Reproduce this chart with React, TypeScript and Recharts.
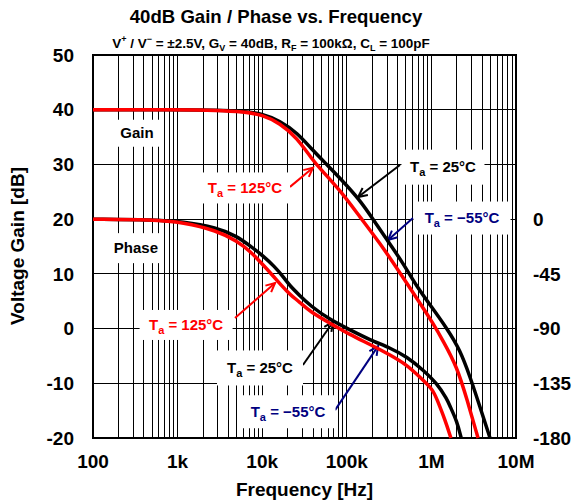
import React from 'react';
import {
  LineChart, Line, XAxis, YAxis, CartesianGrid, ReferenceArea, ReferenceDot, ReferenceLine,
} from 'recharts';

const FONT = '"Liberation Sans", Arial, Helvetica, sans-serif';

// frequency axis
const decades = [100, 1000, 10000, 100000, 1000000, 10000000];
const decadeLabels = ['100', '1k', '10k', '100k', '1M', '10M'];
const gainTicks = [-20, -10, 0, 10, 20, 30, 40, 50];
const phaseTicks = [-180, -135, -90, -45, 0];

// gain curves [dB]
const gain25F = [100, 1000, 3000, 6000, 10000, 16000, 26000, 40000, 58000, 83000, 143000, 204000, 299000, 461000, 676000, 1000000, 1530000, 2180000, 2860000, 3750000, 4930000];
const gain25 = [40, 40, 39.9, 39.7, 39.3, 38, 35.8, 32.5, 30, 27.5, 23.5, 20, 16.2, 12, 7.6, 4, 0, -3.9, -8.8, -14.3, -20];
const gain125F = [100, 1000, 3000, 6000, 10000, 16200, 25800, 39800, 48000, 83000, 143000, 247000, 425000, 796000, 1040000, 1370000, 2010000, 2640000, 3560000];
const gain125 = [40, 40, 39.9, 39.6, 39.1, 37.5, 34.9, 30.7, 29.3, 25.3, 20.4, 15.6, 10.2, 3.8, 1, -2.2, -7, -13, -20];

// phase curves [deg]
const phase25F = [100, 500, 1160, 2900, 5000, 7200, 10200, 14000, 17600, 21300, 28000, 36700, 63300, 109000, 188000, 324000, 515000, 796000, 1160000, 1530000, 1660000, 2000000, 2250000];
const phase25 = [0, -0.5, -2, -7, -14, -22, -30, -39, -47, -55, -63, -71, -82.8, -91, -99.4, -105.8, -113.3, -124, -135, -148, -154, -166, -180];
const phase125F = [100, 500, 1160, 2920, 5040, 7170, 11400, 17600, 21300, 28000, 36700, 63300, 109000, 188000, 324000, 515000, 733000, 1040000, 1160000, 1450000, 1700000];
const phase125 = [0, -0.5, -2.5, -9.5, -18, -26, -41, -56, -62, -68.5, -76, -85.6, -95, -103, -111.6, -120, -130, -140, -148, -165, -180];

const toRows = (f: number[], v: number[]) => f.map((x, i) => ({ f: x, v: v[i] }));

const freqTicks: number[] = [];
decades.slice(0, -1).forEach((d) => {
  for (let m = 1; m < 10; m++) freqTicks.push(d * m);
});
freqTicks.push(10000000);

const fmtFreq = (v: number) => {
  const i = decades.indexOf(v);
  return i >= 0 ? decadeLabels[i] : '';
};

// annotations: text boxes placed in (frequency, dB) coords
interface Note { f: number; db: number; w: number; h: number; color: string; sub?: boolean; text: string }
const notes: Note[] = [
  { f: 331, db: 35.7, w: 46, h: 27, color: '#000', text: 'Gain' },
  { f: 322, db: 14.7, w: 56, h: 30, color: '#000', text: 'Phase' },
  { f: 6260, db: 25.7, w: 90, h: 31, color: '#ff0000', sub: true, text: ' = 125°C' },
  { f: 1370000, db: 29.5, w: 83, h: 35, color: '#000', sub: true, text: ' = 25°C' },
  { f: 2300000, db: 20.2, w: 97, h: 33, color: '#000080', sub: true, text: ' = \u221255°C' },
  { f: 1260, db: 0.66, w: 93, h: 30, color: '#ff0000', sub: true, text: ' = 125°C' },
  { f: 9420, db: -7.2, w: 86, h: 35, color: '#000', sub: true, text: ' = 25°C' },
  { f: 20200, db: -15.2, w: 95, h: 33, color: '#000080', sub: true, text: ' = \u221255°C' },
];

interface Arrow { f1: number; y1: number; f2: number; y2: number; color: string }
const arrows: Arrow[] = [
  { f1: 21300, y1: 25.9, f2: 39800, y2: 29.4, color: '#ff0000' },
  { f1: 425000, y1: 29.9, f2: 136000, y2: 24.05, color: '#000' },
  { f1: 606000, y1: 20.2, f2: 307000, y2: 16.2, color: '#000080' },
  { f1: 4770, y1: 1.94, f2: 14200, y2: 8.33, color: '#ff0000' },
  { f1: 30300, y1: -6.65, f2: 68700, y2: 1.21, color: '#000' },
  { f1: 72600, y1: -14.9, f2: 234000, y2: -3.2, color: '#000080' },
];

const noteShape = (n: Note) => (p: any) => {
  const { cx, cy } = p;
  return (
    <g>
      <rect x={cx - n.w / 2} y={cy - n.h / 2} width={n.w} height={n.h} fill="#fff" />
      <text x={cx} y={cy + 5} textAnchor="middle" fill={n.color} fontFamily={FONT} fontWeight="bold" fontSize={15}>
        {n.sub ? (
          <>
            T<tspan fontSize={11} dy={4}>a</tspan><tspan dy={-4}>{n.text}</tspan>
          </>
        ) : n.text}
      </text>
    </g>
  );
};

const arrowShape = (color: string) => (p: any) => {
  const { x1, y1, x2, y2 } = p;
  const a = Math.atan2(y2 - y1, x2 - x1);
  const L = 10;
  const s = 0.45;
  return (
    <g stroke={color} strokeWidth={2} fill="none">
      <line x1={x1} y1={y1} x2={x2} y2={y2} />
      <polyline
        points={`${x2 - L * Math.cos(a - s)},${y2 - L * Math.sin(a - s)} ${x2},${y2} ${x2 - L * Math.cos(a + s)},${y2 - L * Math.sin(a + s)}`}
      />
    </g>
  );
};

const tickStyle = { fill: '#000', fontSize: 19, fontWeight: 'bold' as const, fontFamily: FONT };

export default function App() {
  return (
    <div style={{ position: 'absolute', left: 0, top: 0, width: 576, height: 501, background: '#fff', fontFamily: FONT }}>
      <div style={{ position: 'absolute', top: 6, left: 0, width: 552, textAlign: 'center', fontSize: 18.6, fontWeight: 'bold', lineHeight: '22px', whiteSpace: 'nowrap' }}>
        40dB Gain / Phase vs. Frequency
      </div>
      <div style={{ position: 'absolute', top: 31, left: 0, width: 542, textAlign: 'center', fontSize: 13.5, fontWeight: 'bold', lineHeight: '16px', whiteSpace: 'nowrap' }}>
        V<sup style={{ fontSize: 9 }}>+</sup> / V<sup style={{ fontSize: 9 }}>{'\u2212'}</sup> = ±2.5V, G<sub style={{ fontSize: 9 }}>V</sub> = 40dB, R<sub style={{ fontSize: 9 }}>F</sub> = 100kΩ, C<sub style={{ fontSize: 9 }}>L</sub> = 100pF
      </div>
      <LineChart width={576} height={501} data={[]} margin={{ top: 55, right: 0, bottom: 0, left: 0 }}>
        <CartesianGrid yAxisId="left" stroke="#000" strokeWidth={1} shapeRendering="crispEdges" />
        <XAxis
          dataKey="f"
          type="number"
          scale="log"
          domain={[100, 10000000]}
          allowDataOverflow
          ticks={freqTicks}
          interval={0}
          tickFormatter={fmtFreq}
          tickLine={false}
          axisLine={false}
          height={63}
          tickMargin={11}
          tick={tickStyle}
        />
        <YAxis
          yAxisId="left"
          type="number"
          domain={[-20, 50]}
          ticks={gainTicks}
          interval={0}
          width={93}
          tickLine={false}
          axisLine={false}
          tickMargin={13}
          tick={tickStyle}
        />
        <YAxis
          yAxisId="right"
          orientation="right"
          type="number"
          domain={[-180, 135]}
          ticks={phaseTicks}
          interval={0}
          width={60}
          tickLine={false}
          axisLine={false}
          tickMargin={11}
          tick={tickStyle}
        />
        <ReferenceArea yAxisId="left" x1={100} x2={10000000} y1={-20} y2={50} fill="none" stroke="#000" strokeWidth={2} ifOverflow="visible" />
        {notes.map((n, i) => (
          <ReferenceDot key={'n' + i} yAxisId="left" x={n.f} y={n.db} r={0} shape={noteShape(n)} />
        ))}
        {arrows.map((a, i) => (
          <ReferenceLine
            key={'a' + i}
            yAxisId="left"
            segment={[{ x: a.f1, y: a.y1 }, { x: a.f2, y: a.y2 }]}
            shape={arrowShape(a.color)}
          />
        ))}
        <Line yAxisId="left" data={toRows(gain25F, gain25)} dataKey="v" type="basis" stroke="#000" strokeWidth={3.5} dot={false} isAnimationActive={false} />
        <Line yAxisId="left" data={toRows(gain125F, gain125)} dataKey="v" type="basis" stroke="#ff0000" strokeWidth={3.5} dot={false} isAnimationActive={false} />
        <Line yAxisId="right" data={toRows(phase25F, phase25)} dataKey="v" type="basis" stroke="#000" strokeWidth={3.5} dot={false} isAnimationActive={false} />
        <Line yAxisId="right" data={toRows(phase125F, phase125)} dataKey="v" type="basis" stroke="#ff0000" strokeWidth={3.5} dot={false} isAnimationActive={false} />
      </LineChart>
      <div style={{ position: 'absolute', top: 479, left: 0, width: 609, textAlign: 'center', fontSize: 19, fontWeight: 'bold', lineHeight: '22px', whiteSpace: 'nowrap' }}>
        Frequency [Hz]
      </div>
      <div style={{ position: 'absolute', left: 18, top: 246, transform: 'translate(-50%, -50%) rotate(-90deg)', fontSize: 19, fontWeight: 'bold', lineHeight: '22px', whiteSpace: 'nowrap' }}>
        Voltage Gain [dB]
      </div>
    </div>
  );
}
